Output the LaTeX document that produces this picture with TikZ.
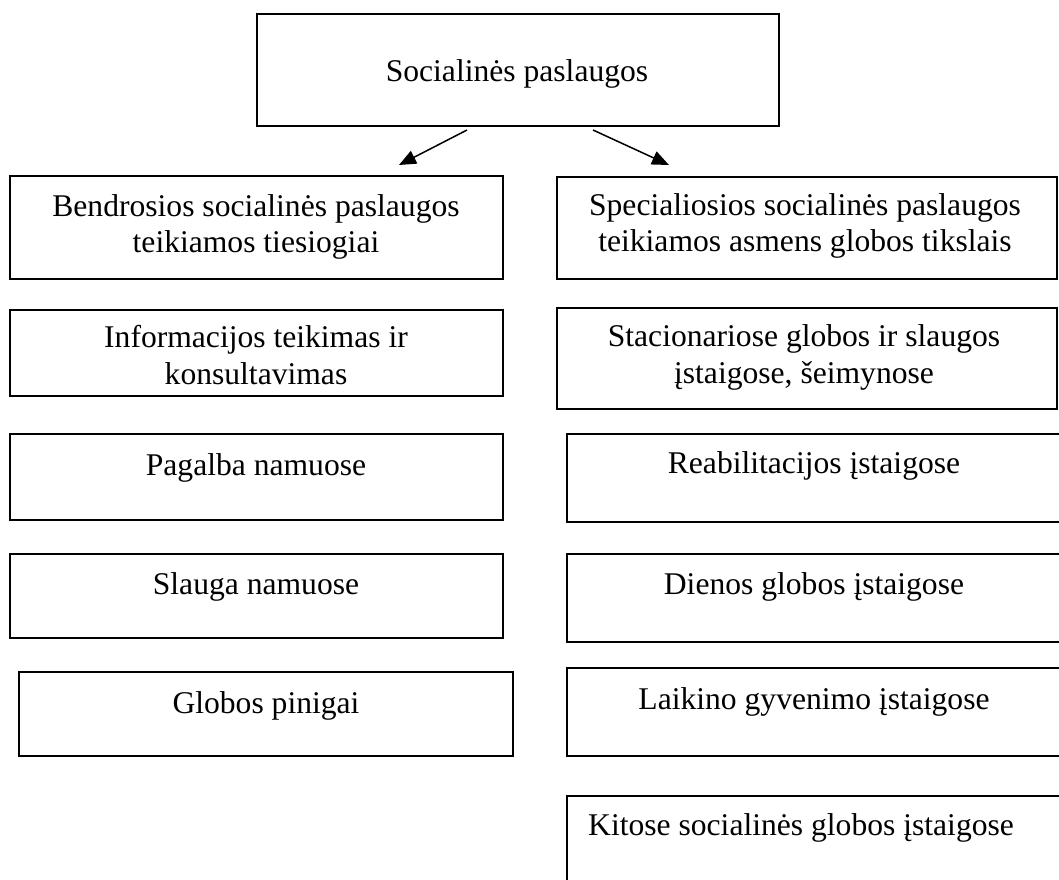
\documentclass[tikz,border=0pt]{standalone}
\usepackage{fontspec}
\setmainfont{Liberation Serif}
\usetikzlibrary{arrows.meta}
\begin{document}
\begin{tikzpicture}[x=1pt,y=-1pt,
  box/.style={draw, line width=1.6pt, inner sep=0pt, minimum width=#1},
  box/.default=493pt,
  lbl/.style={font=\fontsize{31.6}{36.5}\selectfont, align=center, inner sep=0pt, anchor=base},
  link/.style={line width=1.5pt, -{Triangle[length=17pt,width=14pt]}}]
\useasboundingbox (0,0) rectangle (1059,879);
\clip (0,0) rectangle (1059,879);

% frames
\node[box=522pt, minimum height=112pt] (top) at (518,70) {};
\node[box, minimum height=103pt] (l1) at (256.5,227.5) {};
\node[box, minimum height=86pt]  (l2) at (256.5,353) {};
\node[box, minimum height=86pt]  (l3) at (256.5,477) {};
\node[box, minimum height=84pt]  (l4) at (256.5,596) {};
\node[box=494pt, minimum height=84pt] (l5) at (266,714) {};
\node[box=500pt, minimum height=102pt] (r1) at (807,228) {};
\node[box=500pt, minimum height=101pt] (r2) at (807,358.5) {};
\node[box=497pt, minimum height=88pt] (r3) at (815.5,478) {};
\node[box=497pt, minimum height=88pt] (r4) at (815.5,598) {};
\node[box=497pt, minimum height=88pt] (r5) at (815.5,712) {};
\node[box=497pt, minimum height=88pt] (r6) at (815.5,840) {};

% labels (base anchor = baseline of the last line)
\node[lbl] (ttop) at (517,81) {Socialinės paslaugos};
\node[lbl] (tl1) at (256,252.5) {Bendrosios socialinės paslaugos\\teikiamos tiesiogiai};
\node[lbl] (tl2) at (256,384) {Informacijos teikimas ir\\konsultavimas};
\node[lbl] (tl3) at (256,475) {Pagalba namuose};
\node[lbl] (tl4) at (256,594) {Slauga namuose};
\node[lbl] (tl5) at (266,713) {Globos pinigai};
\node[lbl] (tr1) at (805,251.5) {Specialiosios socialinės paslaugos\\teikiamos asmens globos tikslais};
\node[lbl] (tr2) at (804,383) {Stacionariose globos ir slaugos\\įstaigose, šeimynose};
\node[lbl] (tr3) at (814,473) {Reabilitacijos įstaigose};
\node[lbl] (tr4) at (814,594) {Dienos globos įstaigose};
\node[lbl] (tr5) at (814,709) {Laikino gyvenimo įstaigose};
\node[lbl, anchor=base west] (tr6) at (588,835) {Kitose socialinės globos įstaigose};

% arrows from the top frame
\coordinate (s1) at (467,130);
\coordinate (e1) at (399,165);
\coordinate (s2) at (593,130);
\coordinate (e2) at (669,165);
\draw[link] (s1) -- (e1);
\draw[link] (s2) -- (e2);
\end{tikzpicture}
\end{document}
